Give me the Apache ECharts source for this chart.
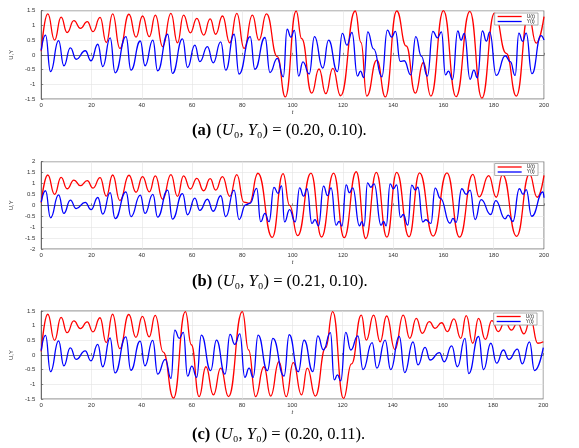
<!DOCTYPE html>
<html>
<head>
<meta charset="utf-8">
<script src="https://cdn.jsdelivr.net/npm/echarts@6/dist/echarts.min.js"></script>
<style>
html,body{margin:0;padding:0;background:#fff;}
#c{width:579px;height:448px;}
</style>
</head>
<body>
<div id="c"></div>
<script>
// ---- data: [t, value] extrema ----
const uStart = [[0,0.12],[2.6,1.39],[5.3,0.5],[7.9,1.28],[10.3,0.76],[13,1.16],[15.6,0.9],[18.3,1.13],[20.6,0.79],[23.4,1.27],[25.9,0.42],[28.4,1.39],[31.3,0.22],[34.9,1.38],[37.7,0.6],[40.3,1.32],[43,0.62],[45.4,1.35]];
const uMidAB = [[48.3,0.28],[51.6,1.41],[54.2,0.41],[56.6,1.35],[59.3,0.75],[61.9,1.24],[64.6,0.67],[67.2,1.22],[69.4,0.7],[72.1,1.32],[75,0.41],[77.8,1.41]];
const uTailA = [[80.7,0.22],[84,1.35],[86.6,0.5],[89.6,1.39],[93.9,-0.06],[97.1,-1.43],[101.4,1.49],[103.6,0.55],[107.6,-1.3],[110.5,-0.48],[113.2,-1.32],[116,-0.46],[119.1,-1.39],[124.9,1.49],[127.2,0.42],[129.5,-1.4],[133.5,-0.18],[136.9,-1.43],[141.4,1.49],[145.2,0.3],[148.8,-1.3],[152,-0.26],[155,-1.4],[160,1.5],[165,-1.42],[170.5,1.48],[175.3,-1.47],[180.3,1.42],[185,0.05],[189,-1.4],[193.8,1.38],[196.9,0.4],[200,1.3]];
const uTailB = [[80.6,0.15],[82.8,0.1],[86.2,1.47],[91.9,-1.47],[96.2,1.45],[98.8,0.0],[102,-1.39],[107.3,1.48],[111.5,-1.45],[116.3,1.48],[120.5,-1.48],[125.3,1.54],[129.1,-1.52],[133.3,1.51],[137.5,-1.46],[141.4,1.51],[146.3,-1.44],[150.5,1.49],[155.9,-1.41],[161.4,1.49],[166.4,-1.46],[171.7,1.42],[174.2,0.39],[178,1.36],[181,0.37],[183.5,1.41],[189.1,-1.42],[194.2,1.43],[197.3,0.37],[200,1.37]];
const uTailC = [[48.6,0.1],[52.7,-1.47],[57.4,1.48],[59.8,0.35],[62.9,-1.42],[65.6,-0.4],[68.6,-1.36],[71.5,-0.45],[74.6,-1.42],[80.1,1.48],[82.6,0.17],[85.4,-1.42],[88.7,-0.4],[91.4,-1.4],[94.7,-0.23],[97.6,-1.42],[100.4,-0.26],[103.7,-1.36],[106,-0.45],[109.2,-1.4],[113.3,0.25],[116.1,1.48],[120.4,-1.48],[123.6,-0.3],[127.5,1.36],[129.5,0.51],[132.4,1.36],[135,0.45],[137.6,1.33],[140.9,0.19],[144.2,1.36],[146.8,0.57],[149.4,1.25],[151.8,0.74],[154.6,1.14],[156.9,0.91],[159.5,1.1],[161.8,0.8],[164.4,1.23],[167.1,0.57],[169.3,1.34],[171.9,0.4],[174.2,1.25],[176.9,0.53],[179.5,1.17],[182.1,0.8],[184.7,1.14],[187.3,0.85],[189.7,1.1],[192.3,0.72],[194.9,1.23],[197.8,0.4],[200,0.45]];

const yStart = [[0,0.15],[1.7,0.67],[3.7,-0.57],[6.9,0.48],[9,-0.37],[11.6,0.24],[13.9,-0.15],[17.5,0.14],[19.8,-0.2],[22.5,0.36],[24.5,-0.4],[27.4,0.58],[29.4,-0.61],[33.7,0.62],[35.7,-0.52],[39.4,0.47],[41.3,-0.37],[44.4,0.5]];
const yMidAB = [[46.3,-0.54],[50.3,0.7],[52.2,-0.63],[56.2,0.54],[58.2,-0.43],[61.1,0.33],[63.1,-0.23],[66.1,0.28],[68.4,-0.27],[71.4,0.44],[73.4,-0.52],[76.7,0.7],[78.7,-0.65]];
const yTailA = [[83.1,0.62],[85,-0.49],[89,0.59],[91,-0.6],[93.9,-0.12],[96.3,-0.75],[97.8,0.87],[99.3,0.6],[100.7,0.83],[102.4,-0.72],[104.1,-0.24],[106.6,-0.65],[108.7,0.62],[112,-0.45],[114.3,0.5],[117.8,-0.57],[119.8,0.73],[121.6,0.33],[123.6,0.76],[125.8,-0.72],[127,-0.55],[128.3,-0.77],[129.9,0.78],[132.2,0.2],[135.5,-0.75],[137.7,0.84],[139.4,0.6],[140.9,0.8],[142.8,-0.22],[144.4,-0.2],[147,-0.68],[149,0.62],[151.2,-0.04],[153.6,-0.72],[155.8,0.8],[157.6,0.58],[159.2,0.78],[160.8,-0.68],[162,-0.55],[163.6,-0.84],[165.7,0.81],[167,0.5],[168.3,0.73],[170.6,-0.83],[172.1,-0.52],[173.5,-0.78],[175.5,0.81],[177.1,0.47],[178.4,0.77],[181,-0.7],[184.6,-0.03],[186.6,-0.23],[188.5,-0.7],[190,0.74],[191.5,0.46],[192.9,0.74],[195.2,-0.64],[198.8,0.65],[200,0.5]];
const yTailB = [[81.3,0.02],[83,0.09],[85.7,0.78],[87.3,-0.75],[89,-0.37],[90.6,-0.75],[92.6,0.82],[94.2,0.55],[95.6,0.89],[96.8,-0.76],[98.8,-0.2],[101,-0.76],[102.8,0.8],[104.4,0.42],[105.7,0.76],[107.7,-0.83],[108.9,-0.65],[110.3,-0.94],[112.3,0.88],[113.9,0.45],[115.3,0.8],[117.3,-0.91],[118.5,-0.73],[119.6,-0.95],[121.3,0.94],[122.6,0.58],[123.9,0.8],[126.6,-0.94],[127.5,-0.75],[128.4,-0.95],[129.8,1.03],[131.1,0.83],[132.4,0.98],[135.2,-0.91],[136.2,-0.73],[137.2,-0.94],[138.8,0.98],[140.1,0.76],[141.4,0.94],[142.9,-0.55],[144,-0.42],[145.8,-0.91],[147.4,0.93],[148.8,0.7],[149.8,0.83],[151.8,-0.76],[153,-0.66],[155,-0.83],[156.7,0.79],[158.8,0.32],[162.6,-0.82],[163.8,-0.6],[165,-0.78],[167.3,0.76],[169,0.5],[170.6,0.7],[172.6,-0.65],[175,0.26],[178.8,-0.42],[180.8,0.22],[184.5,-0.62],[185.8,-0.45],[187.6,-0.74],[190.2,0.76],[191.7,0.5],[192.9,0.72],[195.1,-0.5],[199.6,0.62],[200,0.35]];
const yTailC = [[46.4,-0.65],[49.4,-0.15],[51.7,-0.8],[53.2,0.85],[55,0.57],[56.6,0.77],[58.3,-0.72],[60,-0.38],[61.9,-0.76],[63.8,0.68],[67.5,-0.53],[69.8,0.51],[73.2,-0.65],[75.2,0.7],[77.1,0.36],[79.1,0.72],[81.1,-0.76],[82.8,-0.45],[84.4,-0.76],[86.4,0.68],[90.1,-0.53],[92.3,0.57],[96.7,-0.72],[98.8,0.69],[102.4,-0.57],[104.7,0.51],[108.2,-0.57],[110.2,0.65],[112.4,0.17],[115.2,0.76],[116.7,-0.85],[118,-0.68],[119.3,-0.88],[121.3,0.77],[123.3,0.17],[126.1,0.65],[128.2,-0.5],[131.8,0.42],[133.7,-0.45],[137,0.51],[139.2,-0.5],[142.6,0.63],[144.8,-0.6],[148.1,0.45],[150.1,-0.34],[152.9,0.26],[154.9,-0.17],[158.6,0.08],[160.5,-0.23],[163.5,0.31],[165.8,-0.4],[168.8,0.57],[170.3,-0.63],[174.2,0.63],[176.2,-0.5],[179.1,0.4],[181.4,-0.28],[184.1,0.17],[186.3,-0.15],[189.7,0.2],[191.6,-0.3],[194.5,0.45],[196.5,-0.53],[200,0.25]];

const uA = uStart.concat(uMidAB, uTailA);
const uB = uStart.concat(uMidAB, uTailB);
const uC = uStart.concat(uTailC);
const yA = yStart.concat(yMidAB, yTailA);
const yB = yStart.concat(yMidAB, yTailB);
const yC = yStart.concat(yTailC);

const seriesNames = ['U(t)', 'Y(t)'];
const captions = [
  ['(a)', '0.20, 0.10'],
  ['(b)', '0.21, 0.10'],
  ['(c)', '0.20, 0.11']
];
const yRanges = [[-1.5, 1.5], [-2, 2], [-1.5, 1.5]];

// ---- layout ----
const grids = [
  {left: 40, right: 35, top: 10.7, height: 88.3},
  {left: 40, right: 35, top: 161.7, height: 87.3},
  {left: 38.5, right: 35.7, top: 311, height: 88}
];
const captionTops = [122, 273, 426];
const legendTops = [13, 163.5, 313];
const legendRights = [41, 41, 42];

const axisFont = 'Liberation Sans';
const capSize = 16.5;
const chart = echarts.init(document.getElementById('c'), null, {renderer: 'canvas'});

const option = {
  backgroundColor: '#fff',
  animation: false,
  title: captions.map((c, i) => ({
    left: 192,
    top: captionTops[i],
    padding: 0,
    text: '{b|' + c[0] + '} {n|(}{i|U}{n|₀, }{i|Y}{n|₀) = (' + c[1] + ').}',
    textStyle: {
      fontWeight: 'normal',
      rich: {
        b: {fontFamily: 'Liberation Serif', fontWeight: 'bold', fontSize: capSize, color: '#000'},
        n: {fontFamily: 'Liberation Serif', fontWeight: 'normal', fontSize: capSize, color: '#000'},
        i: {fontFamily: 'Liberation Serif', fontWeight: 'normal', fontStyle: 'italic', fontSize: capSize, color: '#000'}
      }
    }
  })),
  legend: grids.map((g, i) => ({
    data: seriesNames,
    orient: 'vertical',
    right: legendRights[i],
    top: legendTops[i],
    icon: 'rect',
    itemWidth: 24,
    itemHeight: 1.3,
    itemGap: 0,
    padding: [1, 3, 1, 3],
    borderColor: '#999',
    borderWidth: 0.8,
    borderRadius: 0,
    backgroundColor: '#fff',
    selectedMode: false,
    textStyle: {fontSize: 5, fontFamily: axisFont, color: '#222', padding: [0, 0, 0, 0]}
  })),
  grid: grids.map(g => Object.assign({show: true, borderColor: '#444', borderWidth: 0.7, backgroundColor: '#fff'}, g)),
  xAxis: grids.map((g, i) => ({
    type: 'value', gridIndex: i, min: 0, max: 200, interval: 20,
    name: 't', nameLocation: 'middle', nameGap: 9,
    nameTextStyle: {fontSize: 6, fontStyle: 'italic', fontFamily: axisFont, color: '#333'},
    axisLine: {show: true, lineStyle: {color: '#444', width: 0.7}},
    axisTick: {show: true, inside: true, length: 2, lineStyle: {color: '#444', width: 0.6}},
    axisLabel: {fontSize: 6, margin: 3, fontFamily: axisFont, color: '#333'},
    splitLine: {show: true, lineStyle: {color: '#e3e3e3', width: 0.6}}
  })),
  yAxis: grids.map((g, i) => ({
    type: 'value', gridIndex: i, min: yRanges[i][0], max: yRanges[i][1], interval: 0.5,
    name: 'U,Y', nameLocation: 'middle', nameGap: 25,
    nameTextStyle: {fontSize: 6, fontFamily: axisFont, color: '#333'},
    axisLine: {show: true, lineStyle: {color: '#444', width: 0.7}},
    axisTick: {show: true, inside: true, length: 2, lineStyle: {color: '#444', width: 0.6}},
    axisLabel: {fontSize: 6, margin: 6, fontFamily: axisFont, color: '#333'},
    splitLine: {show: true, lineStyle: {color: '#e3e3e3', width: 0.6}}
  })),
  series: []
};

const uData = [uA, uB, uC];
const yData = [yA, yB, yC];
for (let i = 0; i < 3; i++) {
  option.series.push({
    name: seriesNames[0], type: 'line', xAxisIndex: i, yAxisIndex: i,
    data: uData[i], symbol: 'none', smooth: 0.5, smoothMonotone: 'x',
    lineStyle: {color: '#ff0000', width: 1.3}, itemStyle: {color: '#ff0000'}
  });
  option.series.push({
    name: seriesNames[1], type: 'line', xAxisIndex: i, yAxisIndex: i,
    data: yData[i], symbol: 'none', smooth: 0.5, smoothMonotone: 'x',
    lineStyle: {color: '#0000ff', width: 1.3}, itemStyle: {color: '#0000ff'}
  });
}
chart.setOption(option);
</script>
</body>
</html>
